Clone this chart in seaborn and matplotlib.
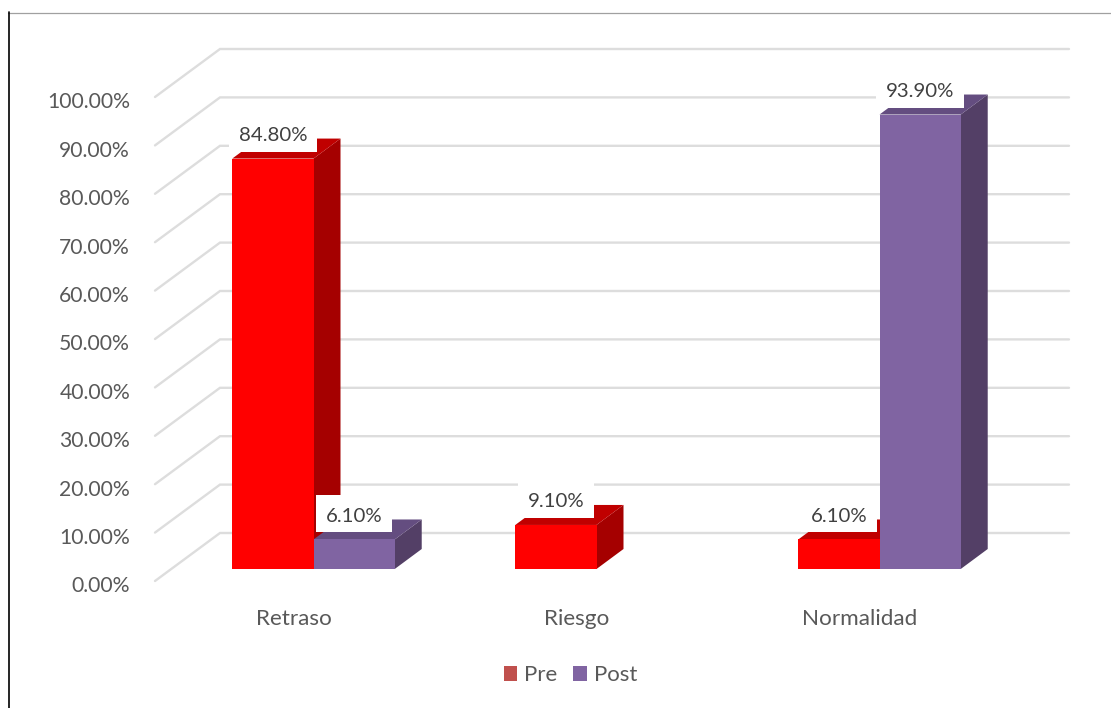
import numpy as np
import pandas as pd
import matplotlib
matplotlib.use('Agg')
import matplotlib.pyplot as plt
import seaborn as sns
from matplotlib.lines import Line2D
from matplotlib.patches import Patch, Polygon, Rectangle
from matplotlib.transforms import Affine2D, IdentityTransform

categories = ["Retraso", "Riesgo", "Normalidad"]
pre_values = [84.8, 9.1, 6.1]
post_values = [6.1, np.nan, 93.9]
y_ticks = [0, 10, 20, 30, 40, 50, 60, 70, 80, 90, 100]

W, H = 1111, 708
TEXT = '#595959'
FRONT = {'Pre': '#FF0000', 'Post': '#8064A2'}
TOP = {'Pre': '#C00000', 'Post': '#644D80'}
SIDE = {'Pre': '#A50000', 'Post': '#533F66'}
LEGEND = {'Pre': '#C0504D', 'Post': '#8064A2'}

sns.set_theme(style='white')
plt.rcParams['font.family'] = ['Lato', 'DejaVu Sans']

df = pd.DataFrame({
    'cat': categories * 2,
    'serie': ['Pre'] * 3 + ['Post'] * 3,
    'valor': pre_values + post_values,
})

fig = plt.figure(figsize=(W / 100, H / 100), dpi=100)

# axes sit on the plane of the bar fronts: y=0 at pixel row 569, 4.84 px per %
left, right = 155, 1069
bottom_row, top_row = 569, 37
ax = fig.add_axes([left / W, 1 - bottom_row / H, (right - left) / W, (bottom_row - top_row) / H])
ax.patch.set_alpha(0)

sns.barplot(data=df, x='cat', y='valor', hue='serie', hue_order=['Pre', 'Post'],
            palette=FRONT, saturation=1, width=0.574, gap=0, errorbar=None,
            linewidth=0, legend=False, ax=ax)

ax.set_xlim((left - 313.5) / 283, (right - 313.5) / 283)
ax.set_ylim(0, (bottom_row - top_row) / 4.84)
ax.set_xlabel('')
ax.set_ylabel('')
sns.despine(ax=ax, left=True, bottom=True)


def to_px(x, y):
    return ax.transData.transform((x, y))


# back wall and left wall gridlines, pixel offsets from the bar plane
xl = ax.get_xlim()[0]
xr_px = to_px(ax.get_xlim()[1], 0)[0]
for v in y_ticks:
    a = to_px(xl, v) + np.array([0, -12])
    b = a + np.array([65, 48])
    ax.plot([a[0], b[0], xr_px], [a[1], b[1], b[1]], color='#DDDDDD', lw=1.7,
            transform=IdentityTransform(), clip_on=False, zorder=0.5,
            solid_joinstyle='miter')

# 3D faces from the bars drawn by seaborn
depth = np.array([27, 20])
renderer = fig.canvas.get_renderer()
for n, (serie, container) in enumerate(zip(['Pre', 'Post'], ax.containers)):
    for bar in container:
        h = bar.get_height()
        if np.isnan(h) or h == 0:
            continue
        x0, x1 = bar.get_x(), bar.get_x() + bar.get_width()
        bl, br = to_px(x0, 0), to_px(x1, 0)
        tl, tr = to_px(x0, h), to_px(x1, h)
        ax.add_patch(Polygon([br, tr, tr + depth, br + depth], closed=True, fc=SIDE[serie], ec='none',
                             transform=IdentityTransform(), clip_on=False, zorder=3 + n / 10))
        ax.add_patch(Polygon([tl, tr, tr + depth, tl + depth], closed=True, fc=TOP[serie], ec='none',
                             transform=IdentityTransform(), clip_on=False, zorder=3 + n / 10))
        bar.set_zorder(4)
        lab = ax.annotate(f"{h:.2f}%", ((x0 + x1) / 2, h),
                          xytext=(0, 23 * 0.72), textcoords='offset points', ha='center', va='center',
                          fontsize=14.7, color='#404040', zorder=6, annotation_clip=False)
        # white label box, sits 7 px above the bar front
        ext = lab.get_window_extent(renderer)
        ax.add_patch(Rectangle((ext.x0 - 10, tl[1] + 7), ext.width + 20, 37, fc='white', ec='none',
                               transform=IdentityTransform(), clip_on=False, zorder=5))

# tick labels are shifted because the axis is drawn on the front edge of the floor
ax.set_yticks(y_ticks)
ax.set_yticklabels([f"{v:.2f}%" for v in y_ticks])
ax.tick_params(axis='y', length=0, pad=18, labelsize=15.2, labelcolor=TEXT)
ax.tick_params(axis='x', length=0, pad=29, labelsize=16.2, labelcolor=TEXT)
for lab in ax.get_yticklabels():
    lab.set_transform(lab.get_transform() + Affine2D().translate(0, -15.5))
for lab in ax.get_xticklabels():
    lab.set_transform(lab.get_transform() + Affine2D().translate(-20, 0))

handles = [Patch(fc=LEGEND[s], ec='none', label=s) for s in ['Pre', 'Post']]
fig.legend(handles=handles, loc='center', bbox_to_anchor=(570.5 / W, 1 - 675 / H), ncol=2, frameon=False,
           fontsize=16, labelcolor=TEXT, handlelength=0.59, handleheight=0.68,
           handletextpad=0.33, columnspacing=0.72)

# picture frame left over from the source document
fig.add_artist(Line2D([8 / W, 1], [1 - 12.5 / H] * 2, color='#A0A0A0', lw=0.9))
fig.add_artist(Line2D([8.5 / W] * 2, [1 - 12 / H, 0], color='#000000', lw=1.2))

fig.savefig('out.png', dpi=100)
plt.close(fig)
